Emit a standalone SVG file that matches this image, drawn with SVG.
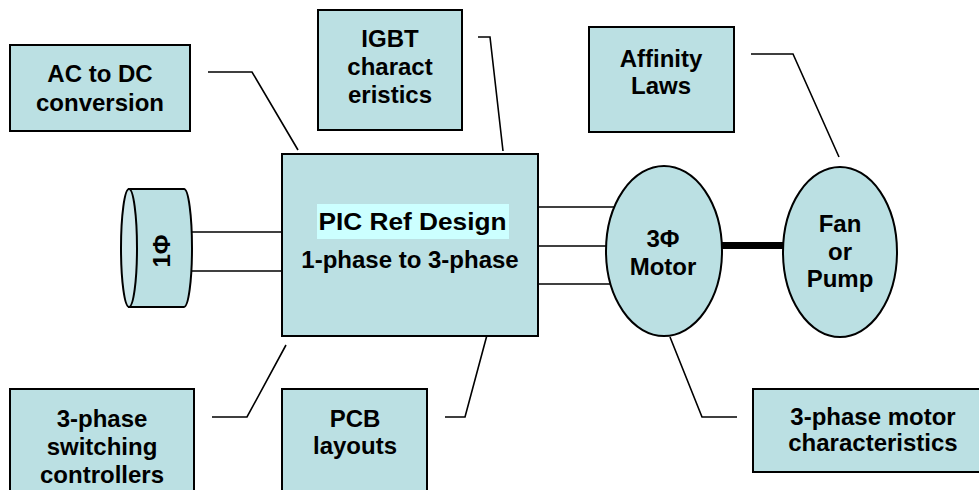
<svg xmlns="http://www.w3.org/2000/svg" width="979" height="490" viewBox="0 0 979 490">
<style>
.box{fill:#bbe0e3;stroke:#000;stroke-width:2}
.ln{fill:none;stroke:#000;stroke-width:1.6}
.t{font-family:"Liberation Sans",Arial,sans-serif;font-weight:bold;font-size:24px;fill:#000;text-anchor:middle}
</style>
<rect width="979" height="490" fill="#fff"/>
<g id="connectors">
<polyline class="ln" points="208,72 252,72 298,150"/>
<polyline class="ln" points="478,37 490,37 503,151"/>
<polyline class="ln" points="751,54 793,54 839,157"/>
<polyline class="ln" points="212,417 247,417 286,345"/>
<polyline class="ln" points="445,417 465,417 487,335"/>
<polyline class="ln" points="737,417 702,417 670,337"/>
<line class="ln" x1="192" y1="232" x2="282" y2="232"/>
<line class="ln" x1="192" y1="271" x2="282" y2="271"/>
<line class="ln" x1="538" y1="207" x2="614" y2="207"/>
<line class="ln" x1="538" y1="246" x2="607" y2="246"/>
<line class="ln" x1="538" y1="284" x2="614" y2="284"/>
<line x1="722" y1="245.5" x2="783" y2="245.5" stroke="#000" stroke-width="7"/>
</g>
<g id="ac-dc">
<rect class="box" x="10" y="45" width="180" height="86"/>
<text class="t" x="100" y="82">AC to DC</text>
<text class="t" x="100" y="111">conversion</text>
</g>
<g id="igbt">
<rect class="box" x="318" y="10" width="144" height="120"/>
<text class="t" x="390" y="47">IGBT</text>
<text class="t" x="390" y="75">charact</text>
<text class="t" x="390" y="103">eristics</text>
</g>
<g id="affinity">
<rect class="box" x="589" y="27" width="145" height="105"/>
<text class="t" x="661" y="67">Affinity</text>
<text class="t" x="661" y="94">Laws</text>
</g>
<g id="source">
<path d="M129,189 H184 A8,59 0 0 1 184,307 H129 Z" fill="#bbe0e3" stroke="#000" stroke-width="2"/>
<ellipse cx="129" cy="248" rx="8" ry="59" fill="#cfe8eb" stroke="#000" stroke-width="2"/>
<text class="t" transform="translate(170,251) rotate(-90)" x="0" y="0">1Φ</text>
</g>
<g id="main">
<rect class="box" x="282" y="154" width="256" height="182"/>
<rect x="317" y="204" width="192" height="35" fill="#ccffff"/>
<text class="t" x="412.5" y="230" font-size="28" textLength="188" lengthAdjust="spacingAndGlyphs">PIC Ref Design</text>
<text class="t" x="410" y="268" font-size="25">1-phase to 3-phase</text>
</g>
<g id="motor">
<ellipse class="box" cx="664" cy="251" rx="58" ry="85"/>
<text class="t" x="663" y="247">3Φ</text>
<text class="t" x="663" y="275">Motor</text>
</g>
<g id="fan">
<ellipse class="box" cx="840" cy="252" rx="57" ry="85"/>
<text class="t" x="840" y="232">Fan</text>
<text class="t" x="840" y="260">or</text>
<text class="t" x="840" y="287">Pump</text>
</g>
<g id="switching">
<rect class="box" x="10" y="389" width="184" height="110"/>
<text class="t" x="102" y="427">3-phase</text>
<text class="t" x="102" y="455">switching</text>
<text class="t" x="102" y="483">controllers</text>
</g>
<g id="pcb">
<rect class="box" x="282" y="389" width="145" height="110"/>
<text class="t" x="355" y="427">PCB</text>
<text class="t" x="355" y="454">layouts</text>
</g>
<g id="motor-char">
<rect class="box" x="753" y="389" width="240" height="83"/>
<text class="t" x="873" y="425">3-phase motor</text>
<text class="t" x="873" y="451">characteristics</text>
</g>
</svg>
